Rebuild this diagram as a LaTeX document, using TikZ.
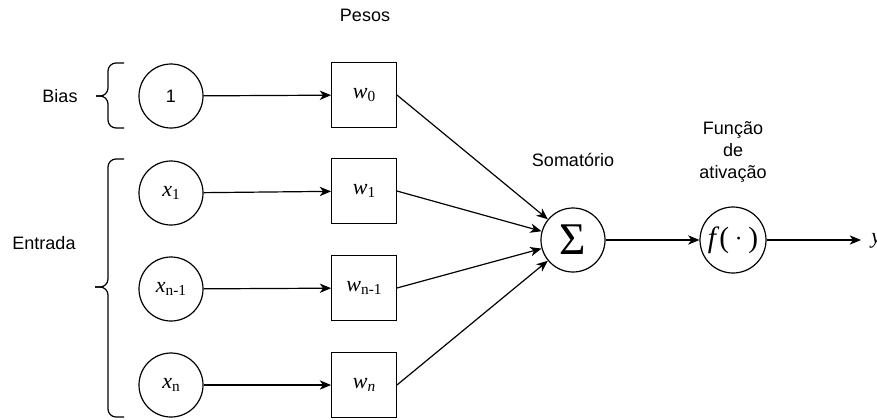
\documentclass[tikz,border=0pt]{standalone}
\usepackage{fontspec}
\setmainfont{Liberation Sans}
\newfontfamily\mathserif{Liberation Serif}
\usetikzlibrary{arrows.meta}

% variable with an upright subscript, set in the serif face
\newcommand{\var}[2]{{\mathserif\fontsize{16.5}{19}\selectfont\textit{#1}\raisebox{-0.35ex}{\fontsize{11.5}{13}\selectfont#2}}}

\tikzset{
  x=0.75pt, y=-0.75pt,
  every node/.style={font=\fontsize{13.5}{16.5}\selectfont},
  neuron/.style={circle, draw, line width=0.9pt, minimum size=48pt, inner sep=0pt},
  weight/.style={draw, line width=0.9pt, minimum size=48.5pt, inner sep=0pt},
  label/.style={inner sep=0pt, align=center},
  arr/.style={line width=0.9pt, -{Stealth[length=8.5pt, width=7pt, inset=2.5pt]}},
  bracket/.style={line width=0.9pt, rounded corners=6pt},
}

\begin{document}
\begin{tikzpicture}
  \useasboundingbox (0,0) rectangle (877,419);

  % inputs
  \node[neuron] (b)  at (171,96)  {1};
  \node[neuron] (x1) at (171,193) {\var{x}{1}};
  \node[neuron] (xm) at (171,289) {\var{x}{n-1}};
  \node[neuron] (xn) at (171,385) {\var{x}{n}};

  % weights
  \node[weight] (w0) at (364,95)  {\var{w}{0}};
  \node[weight] (w1) at (364,191) {\var{w}{1}};
  \node[weight] (wm) at (364,288) {\var{w}{n-1}};
  \node[weight] (wn) at (364,385) {\var{w}{\textit{n}}};

  % summation and activation
  \node[neuron] (sum) at (573,240) {{\mathserif\fontsize{34}{36}\selectfont\char"03A3}};
  \node[neuron, minimum size=49.5pt] (act) at (733,240)
    {{\mathserif\fontsize{22}{24}\selectfont\textit{f}(\kern0.2em\raisebox{0.1ex}{$\cdot$}\kern0.2em)}};
  \coordinate (out) at (861,240);
  \node[anchor=west, inner sep=0pt] (y) at (871,241)
    {{\mathserif\fontsize{16.5}{19}\selectfont\textit{y}}};

  % labels
  \node[label] (pesos) at (365,15)  {Pesos};
  \node[label] (bias)  at (60,96)   {Bias};
  \node[label] (ent)   at (44,243)  {Entrada};
  \node[label] (somat) at (573,160) {Somatório};
  \node[label] (fat)   at (733,152) {Função\\de\\ativação};

  % brackets
  \draw[bracket] (124,63) -| (108,96) -- (96,96);
  \draw[bracket] (124,128) -| (108,96) -- (96,96);
  \draw[bracket] (124,159) -| (108,287) -- (95,287);
  \draw[bracket] (124,417) -| (108,287) -- (95,287);

  % connections
  \draw[arr] (b)  -- (w0);
  \draw[arr] (x1) -- (w1);
  \draw[arr] (xm) -- (wm);
  \draw[arr] (xn) -- (wn);
  \draw[arr] (w0.east) -- (sum);
  \draw[arr] (w1.east) -- (sum);
  \draw[arr] (wm.east) -- (sum);
  \draw[arr] (wn.east) -- (sum);
  \draw[arr] (sum) -- (act);
  \draw[arr] (act) -- (out);
\end{tikzpicture}
\end{document}
